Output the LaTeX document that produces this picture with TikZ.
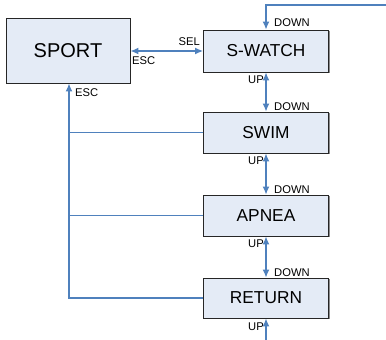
\documentclass[tikz,border=0pt]{standalone}
\usepackage{fontspec}
\setmainfont{Liberation Sans}
\usepackage{tikz}
\usetikzlibrary{arrows.meta}
\usetikzlibrary{shadows}
\definecolor{linkblue}{RGB}{79,129,189}
\definecolor{boxfill}{RGB}{228,235,246}

\begin{document}
\begin{tikzpicture}[x=1pt,y=-1pt,
  state/.style={draw=black!85,fill=boxfill,line width=0.9pt,minimum width=125pt,minimum height=41pt,
    inner sep=0pt,font=\fontsize{17.3}{20}\selectfont,
    drop shadow={shadow xshift=1.2pt,shadow yshift=-1.2pt,fill=black!45,opacity=1}},
  link/.style={linkblue,line width=1.3pt,>={Latex[length=8pt,width=7pt]}},
  lbl/.style={font=\fontsize{11.2}{13}\selectfont,inner sep=0pt}]
  \useasboundingbox (0,0) rectangle (386,340);
  \pgfmathsetmacro{\ax}{266}

  \node[state,minimum width=124pt,minimum height=65pt,font=\fontsize{20}{24}\selectfont] (sport) at (68,50.5) {SPORT};
  \node[state,minimum height=42pt] (swatch) at (\ax,51) {S-WATCH};
  \node[state] (swim) at (\ax,132.5) {SWIM};
  \node[state] (apnea) at (\ax,215.5) {APNEA};
  \node[state,minimum height=40pt] (return) at (\ax,298) {RETURN};

  \coordinate (topin) at (386,5);
  \coordinate (botin) at (\ax,340);
  \coordinate (bus) at ([xshift=1pt]sport.south);

  % SEL / ESC between sport and s-watch
  \draw[link,<->] (sport.east |- swatch) -- (swatch.west);
  \node[lbl,anchor=south east] (sel) at (200,46) {SEL};
  \node[lbl,anchor=north west] (esc1) at (132,56) {ESC};

  % chain of states
  \draw[link,->] (topin) -| (swatch.north);
  \draw[link,<->] (swatch.south) -- (swim.north);
  \draw[link,<->] (swim.south) -- (apnea.north);
  \draw[link,<->] (apnea.south) -- (return.north);
  \draw[link,->] (botin) -- (return.south);

  \foreach \s/\t in {swatch/swim,swim/apnea,apnea/return}{
    \node[lbl,anchor=north east] at ([xshift=-2pt,yshift=-3pt]\s.south) {UP};
    \node[lbl,anchor=south west] at ([xshift=8pt,yshift=1pt]\t.north) {DOWN};
  }
  \node[lbl,anchor=south west] (down0) at ([xshift=8pt,yshift=3pt]swatch.north) {DOWN};
  \node[lbl,anchor=north east] (up3) at ([xshift=-2pt,yshift=-4pt]return.south) {UP};

  % back to sport
  \draw[link,->] (return.west) -| (bus);
  \draw[link] (swim.west) -- (swim.west -| bus);
  \draw[link] (apnea.west) -- (apnea.west -| bus);
  \node[lbl,anchor=north west] (esc2) at (75,88) {ESC};
\end{tikzpicture}
\end{document}
